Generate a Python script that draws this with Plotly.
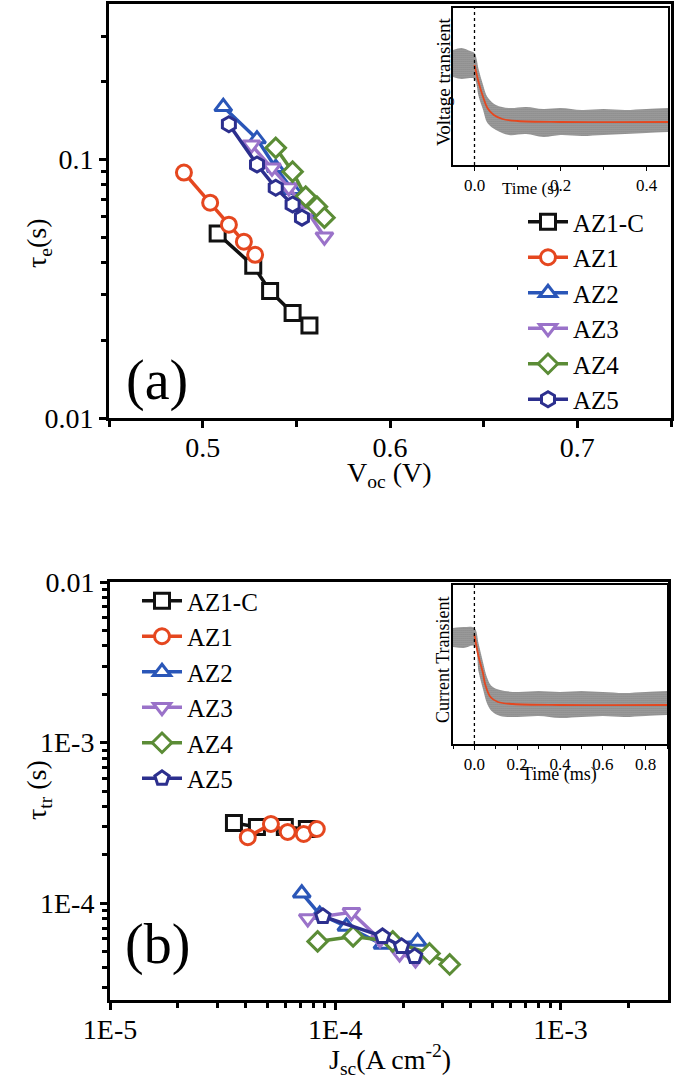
import plotly.graph_objects as go

W, H = 675, 1086


def fx(x):
    return x / W


def fy(y):
    return 1 - y / H


# ---- panel (a): electron lifetime vs Voc ----
voc_az1c = [0.508, 0.527, 0.536, 0.548, 0.557]
tau_az1c = [0.0517, 0.0388, 0.031, 0.0255, 0.0228]
voc_az1 = [0.490, 0.504, 0.514, 0.522, 0.528]
tau_az1 = [0.0891, 0.0681, 0.056, 0.0481, 0.0428]
voc_az2 = [0.511, 0.529, 0.539, 0.548, 0.557]
tau_az2 = [0.160, 0.120, 0.093, 0.0765, 0.0628]
voc_az3 = [0.526, 0.537, 0.546, 0.556, 0.565]
tau_az3 = [0.114, 0.093, 0.078, 0.0628, 0.0503]
voc_az4 = [0.539, 0.548, 0.555, 0.561, 0.565]
tau_az4 = [0.111, 0.0898, 0.0719, 0.0657, 0.0596]
voc_az5 = [0.514, 0.529, 0.539, 0.548, 0.553]
tau_az5 = [0.137, 0.0957, 0.0778, 0.067, 0.0596]

# inset (a): voltage transient
t_a = [-0.05, -0.03, -0.01, 0.0, 0.01, 0.02, 0.03, 0.05, 0.08, 0.12, 0.16, 0.2, 0.25, 0.3, 0.35, 0.4, 0.45]
v_a_hi = [115, 117, 114, 112, 95, 80, 68, 60, 57, 58, 56, 57, 55, 56, 55, 56, 57]
v_a_lo = [88, 86, 87, 86, 68, 55, 42, 35, 30, 31, 28, 30, 29, 30, 31, 32, 33]
t_a_fit = [0.0, 0.01, 0.02, 0.03, 0.045, 0.065, 0.1, 0.2, 0.45]
v_a_fit = [100, 82, 68, 57, 50, 46, 44, 43, 43]

# ---- panel (b): transport time vs Jsc ----
jsc_az1c = [3.55e-5, 4.49e-5, 5.97e-5, 7.48e-5]
ttr_az1c = [3.16e-4, 2.99e-4, 2.99e-4, 2.9e-4]
jsc_az1 = [4.09e-5, 5.18e-5, 6.15e-5, 7.24e-5, 8.28e-5]
ttr_az1 = [2.58e-4, 3.12e-4, 2.78e-4, 2.70e-4, 2.9e-4]
jsc_az2 = [7.10e-5, 8.53e-5, 1.12e-4, 1.62e-4, 2.32e-4]
ttr_az2 = [1.155e-4, 8.53e-5, 7.18e-5, 5.54e-5, 5.79e-5]
jsc_az3 = [7.55e-5, 1.18e-4, 1.58e-4, 1.93e-4, 2.27e-4]
ttr_az3 = [8.05e-5, 8.78e-5, 5.96e-5, 4.87e-5, 4.47e-5]
jsc_az4 = [8.35e-5, 1.20e-4, 1.80e-4, 2.62e-4, 3.22e-4]
ttr_az4 = [5.79e-5, 6.22e-5, 5.79e-5, 4.87e-5, 4.16e-5]
jsc_az5 = [8.81e-5, 1.62e-4, 1.97e-4, 2.25e-4]
ttr_az5 = [8.29e-5, 6.22e-5, 5.39e-5, 4.67e-5]

# inset (b): current transient
t_b = [-0.1, -0.05, 0.0, 0.02, 0.04, 0.06, 0.08, 0.12, 0.2, 0.3, 0.4, 0.5, 0.6, 0.7, 0.8, 0.9]
i_b_hi = [116, 117, 116, 100, 82, 66, 58, 54, 52, 53, 52, 53, 52, 51, 52, 53]
i_b_lo = [97, 96, 98, 72, 55, 40, 33, 28, 27, 28, 26, 27, 28, 27, 28, 29]
t_b_fit = [0.0, 0.02, 0.04, 0.05, 0.075, 0.11, 0.18, 0.4, 0.9]
i_b_fit = [109, 87, 71, 60, 47, 42, 40, 39, 39]

names = ['AZ1-C', 'AZ1', 'AZ2', 'AZ3', 'AZ4', 'AZ5']
colors = ['#111111', '#E5471F', '#2A56B8', '#9A72C9', '#5B8C36', '#2C2F8E']
sym_a = ['square', 'circle', 'triangle-up', 'triangle-down', 'diamond', 'hexagon']
sym_b = ['square', 'circle', 'triangle-up', 'triangle-down', 'diamond', 'pentagon']

series_a = [(voc_az1c, tau_az1c), (voc_az1, tau_az1), (voc_az2, tau_az2),
            (voc_az3, tau_az3), (voc_az4, tau_az4), (voc_az5, tau_az5)]
series_b = [(jsc_az1c, ttr_az1c), (jsc_az1, ttr_az1), (jsc_az2, ttr_az2),
            (jsc_az3, ttr_az3), (jsc_az4, ttr_az4), (jsc_az5, ttr_az5)]

SERIF = 'Liberation Serif, Times New Roman, serif'

fig = go.Figure()

for i, (xs, ys) in enumerate(series_a):
    fig.add_trace(go.Scatter(x=xs, y=ys, mode='lines+markers', name=names[i],
                             line=dict(color=colors[i], width=3.5),
                             marker=dict(symbol=sym_a[i], size=15, color='white',
                                         line=dict(color=colors[i], width=3)),
                             xaxis='x', yaxis='y', legend='legend'))

for i, (xs, ys) in enumerate(series_b):
    fig.add_trace(go.Scatter(x=xs, y=ys, mode='lines+markers', name=names[i],
                             line=dict(color=colors[i], width=3.5),
                             marker=dict(symbol=sym_b[i], size=15, color='white',
                                         line=dict(color=colors[i], width=3)),
                             xaxis='x3', yaxis='y3', legend='legend2'))

# insets: noisy band drawn as a stippled fill, fit in red
for t, lo, hi, tf, vf, xa, ya in [(t_a, v_a_lo, v_a_hi, t_a_fit, v_a_fit, 'x2', 'y2'),
                                  (t_b, i_b_lo, i_b_hi, t_b_fit, i_b_fit, 'x4', 'y4')]:
    fig.add_trace(go.Scatter(x=t, y=lo, mode='lines', line=dict(width=0, shape='spline'),
                             showlegend=False, xaxis=xa, yaxis=ya, hoverinfo='skip'))
    fig.add_trace(go.Scatter(x=t, y=hi, mode='lines', line=dict(width=0, shape='spline'),
                             fill='tonexty', fillcolor='rgba(0,0,0,0)',
                             fillpattern=dict(shape='.', fgcolor='#3a3a3a', bgcolor='#b4b4b4',
                                              size=2, solidity=0.6),
                             showlegend=False, xaxis=xa, yaxis=ya, hoverinfo='skip'))
    fig.add_trace(go.Scatter(x=tf, y=vf, mode='lines', line=dict(color='#E5471F', width=1.8, shape='spline'),
                             showlegend=False, xaxis=xa, yaxis=ya))

font_main = dict(family=SERIF, size=28, color='black')
font_inset = dict(family=SERIF, size=17, color='black')

main_ax = dict(showline=True, linewidth=3, linecolor='black', mirror=True, showgrid=False,
               zeroline=False, ticks='outside', ticklen=7, tickwidth=2.5, tickcolor='black',
               tickfont=font_main, automargin=False)
inset_ax = dict(showline=True, linewidth=1.5, linecolor='black', mirror=True, showgrid=False,
                zeroline=False, tickfont=font_inset, automargin=False)

fig.update_layout(
    width=W, height=H, margin=dict(l=0, r=0, t=0, b=0, autoexpand=False),
    paper_bgcolor='white', plot_bgcolor='white',
    font=font_main,
    xaxis=dict(main_ax, domain=[fx(109), fx(671)], range=[0.45, 0.75],
               tickvals=[0.5, 0.6, 0.7], ticktext=['0.5', '0.6', '0.7'],
               ticklabelstandoff=-5,
               minor=dict(tickvals=[0.45, 0.55, 0.65, 0.75], ticks='outside', ticklen=6,
                          tickwidth=2.5, tickcolor='black'),
               anchor='y'),
    yaxis=dict(main_ax, domain=[fy(418), fy(4)], type='log', range=[-2, -0.398],
               tickvals=[0.01, 0.1], ticktext=['0.01', '0.1'],
               minor=dict(tickvals=[0.02, 0.03, 0.04, 0.05, 0.06, 0.07, 0.08, 0.09, 0.2, 0.3],
                          ticks='outside', ticklen=5, tickwidth=2.5, tickcolor='black'),
               anchor='x'),
    xaxis2=dict(inset_ax, domain=[fx(453), fx(668)], range=[-0.05, 0.45],
                tickvals=[0.0, 0.2, 0.4], ticktext=['0.0', '0.2', '0.4'],
                ticks='outside', ticklen=4, tickwidth=1.2, tickcolor='black',
                minor=dict(tickvals=[0.1, 0.3], ticks='outside', ticklen=3, tickwidth=1.2,
                           tickcolor='black'),
                anchor='y2'),
    yaxis2=dict(inset_ax, domain=[fy(165), fy(8)], range=[0, 157], showticklabels=False,
                ticks='', anchor='x2'),
    xaxis3=dict(main_ax, domain=[fx(110), fx(668)], type='log', range=[-5, -2.523],
                tickvals=[1e-5, 1e-4, 1e-3], ticktext=['1E-5', '1E-4', '1E-3'],
                ticklabelstandoff=-5,
                minor=dict(tickvals=[2e-5, 3e-5, 4e-5, 5e-5, 6e-5, 7e-5, 8e-5, 9e-5,
                                     2e-4, 3e-4, 4e-4, 5e-4, 6e-4, 7e-4, 8e-4, 9e-4, 2e-3],
                           ticks='outside', ticklen=5, tickwidth=2.5, tickcolor='black'),
                anchor='y3'),
    yaxis3=dict(main_ax, domain=[fy(1000), fy(582)], type='log', range=[-4.602, -2],
                tickvals=[1e-4, 1e-3, 1e-2], ticktext=['1E-4', '1E-3', '0.01'],
                minor=dict(tickvals=[3e-5, 4e-5, 5e-5, 6e-5, 7e-5, 8e-5, 9e-5,
                                     2e-4, 3e-4, 4e-4, 5e-4, 6e-4, 7e-4, 8e-4, 9e-4,
                                     2e-3, 3e-3, 4e-3, 5e-3, 6e-3, 7e-3, 8e-3, 9e-3],
                           ticks='outside', ticklen=5, tickwidth=2.5, tickcolor='black'),
                anchor='x3'),
    xaxis4=dict(inset_ax, domain=[fx(453), fx(667)], range=[-0.1, 0.9],
                tickvals=[0.0, 0.2, 0.4, 0.6, 0.8], ticktext=['0.0', '0.2', '0.4', '0.6', '0.8'],
                ticks='outside', ticklen=4, tickwidth=1.2, tickcolor='black',
                minor=dict(tickvals=[-0.1, 0.1, 0.3, 0.5, 0.7, 0.9], ticks='outside', ticklen=3,
                           tickwidth=1.2, tickcolor='black'),
                anchor='y4'),
    yaxis4=dict(inset_ax, domain=[fy(744), fy(585)], range=[0, 159], showticklabels=False,
                ticks='', anchor='x4'),
    legend=dict(x=fx(523), y=fy(199), xanchor='left', yanchor='top', bgcolor='rgba(0,0,0,0)',
                font=dict(family=SERIF, size=25), tracegroupgap=0, traceorder='normal',
                itemwidth=40),
    legend2=dict(x=fx(137), y=fy(578), xanchor='left', yanchor='top', bgcolor='rgba(0,0,0,0)',
                 font=dict(family=SERIF, size=25), tracegroupgap=0, traceorder='normal',
                 itemwidth=40),
    shapes=[
        dict(type='line', xref='x2', yref='paper', x0=0, x1=0, y0=fy(165), y1=fy(8),
             line=dict(color='black', width=1.3, dash='dot')),
        dict(type='line', xref='x4', yref='paper', x0=0, x1=0, y0=fy(744), y1=fy(585),
             line=dict(color='black', width=1.3, dash='dot')),
    ],
)

annos = [
    ('V<sub>oc</sub> (V)', 390, 475, 28, 0),
    ('J<sub>sc</sub>(A cm<sup>-2</sup>)', 390, 1059, 28, 0),
    ('τ<sub>e</sub>(s)', 38, 243, 28, -90),
    ('τ<sub>tr</sub> (s)', 38, 790, 28, -90),
    ('(a)', 157, 380, 56, 0),
    ('(b)', 157, 944, 56, 0),
    ('Time (s)', 530, 188, 17, 0),
    ('Time (ms)', 559, 774, 18, 0),
    ('Voltage transient', 443, 82, 19, -90),
    ('Current Transient', 443, 660, 18, -90),
]
for text, x, y, size, ang in annos:
    fig.add_annotation(text=text, x=fx(x), y=fy(y), xref='paper', yref='paper',
                       showarrow=False, textangle=ang, xanchor='center', yanchor='middle',
                       font=dict(family=SERIF, size=size, color='black'))

fig.write_html("out.html", config={'displayModeBar': False},
               post_script="document.body.style.margin='0';")
